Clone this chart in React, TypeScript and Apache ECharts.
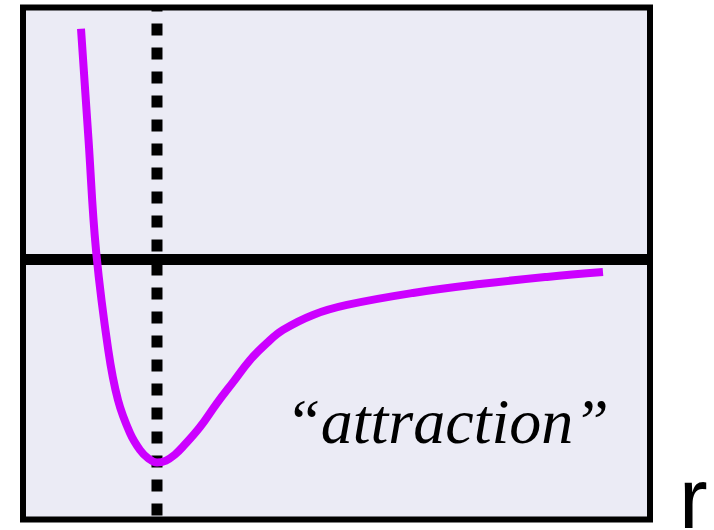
import React, { useEffect, useRef } from "react";
import * as echarts from "echarts";

// Interatomic potential V(r): steep repulsive wall, a single well, slow tail toward zero
const rValues = [
  0.925, 1.045, 1.164, 1.36, 1.515, 1.707, 1.866, 1.993, 2.137, 2.281, 2.425,
  2.552, 2.823, 3.094, 3.36, 3.62, 3.89, 4.147, 4.625, 5.167, 6.22, 7.289,
  8.357, 9.25,
];
const vValues = [
  1.135, 0.589, 0.047, -0.446, -0.692, -0.855, -0.938, -0.978, -1.0, -0.99,
  -0.96, -0.921, -0.825, -0.707, -0.6, -0.495, -0.411, -0.347, -0.273, -0.224,
  -0.165, -0.121, -0.086, -0.062,
];

// Position of the well minimum (equilibrium separation)
const rMin = 2.137;

const xRange = [0, 10];
const yRange = [-1.28, 1.24];

const curveLabel = "\u201Cattraction\u201D";
const axisLabel = "r";

export default function App() {
  const ref = useRef<HTMLDivElement>(null);

  useEffect(() => {
    if (!ref.current) return;
    const chart = echarts.init(ref.current, null, { renderer: "svg" });

    const curve = rValues.map((r, i) => [r, vValues[i]]);

    chart.setOption({
      animation: false,
      grid: {
        left: 23,
        right: 64,
        top: 7.5,
        bottom: 10.5,
        show: true,
        backgroundColor: "#ebebf5",
        borderColor: "#000000",
        borderWidth: 6,
      },
      xAxis: {
        type: "value",
        min: xRange[0],
        max: xRange[1],
        show: false,
      },
      yAxis: {
        type: "value",
        min: yRange[0],
        max: yRange[1],
        show: false,
      },
      series: [
        {
          // zero-energy reference line
          type: "line",
          data: [
            [xRange[0], 0],
            [xRange[1], 0],
          ],
          symbol: "none",
          lineStyle: { color: "#000000", width: 11 },
          silent: true,
          z: 2,
        },
        {
          // equilibrium separation marker
          type: "line",
          data: [
            [rMin, yRange[1]],
            [rMin, yRange[0]],
          ],
          symbol: "none",
          lineStyle: {
            color: "#000000",
            width: 11,
            type: [12, 12],
            dashOffset: 7.5,
          },
          silent: true,
          z: 2,
        },
        {
          type: "line",
          data: curve,
          symbol: "none",
          smooth: 0.4,
          lineStyle: { color: "#cc00ff", width: 8 },
          silent: true,
          z: 3,
        },
      ],
      graphic: [
        {
          type: "text",
          x: 447,
          y: 421,
          style: {
            text: curveLabel,
            font: "italic 64px 'Liberation Serif', 'Times New Roman', serif",
            fill: "#000000",
            align: "center",
            verticalAlign: "middle",
          },
          z: 10,
        },
        {
          type: "text",
          x: 679,
          y: 498,
          style: {
            text: axisLabel,
            font: "86px 'Liberation Sans', Arial, sans-serif",
            fill: "#000000",
            align: "left",
            verticalAlign: "middle",
          },
          z: 10,
        },
      ],
    });

    return () => chart.dispose();
  }, []);

  return (
    <div
      ref={ref}
      style={{ position: "fixed", left: 0, top: 0, width: 714, height: 530 }}
    />
  );
}
